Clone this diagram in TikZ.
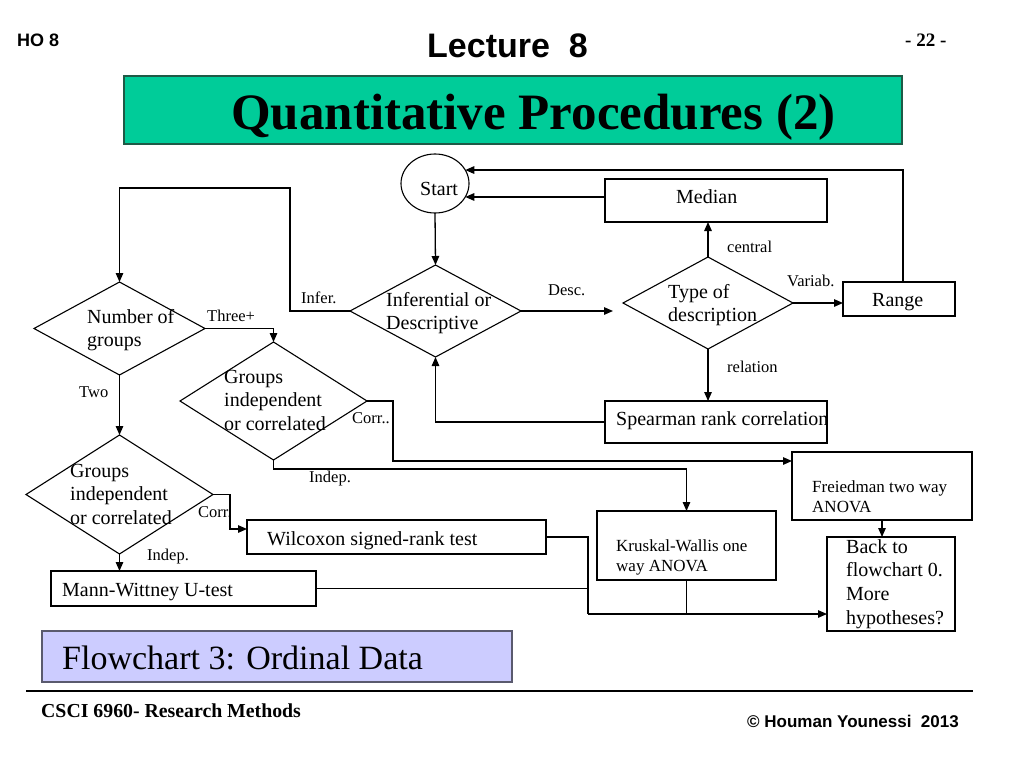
\documentclass[tikz,border=0pt]{standalone}
\usepackage{fontspec}
\setmainfont{Liberation Serif}
\newfontfamily\arialf{Liberation Sans}
\usetikzlibrary{shapes.geometric,arrows.meta}
\newcommand\mlines[1]{\begin{tabular}[t]{@{}l@{}}#1\end{tabular}}
\definecolor{titlegreen}{RGB}{0,204,153}
\definecolor{titleedge}{RGB}{30,90,70}
\definecolor{lav}{RGB}{204,204,255}
\definecolor{lavedge}{RGB}{90,90,110}
\begin{document}
\begin{tikzpicture}[x=1pt,y=-1pt,
  box/.style={draw, line width=1.1pt, rectangle, inner sep=0pt, outer sep=0pt},
  dia/.style={draw, line width=1.1pt, diamond, inner sep=0pt, outer sep=0pt},
  conn/.style={line width=1.3pt},
  arr/.style={conn, -{Triangle[length=9pt,width=7.5pt]}},
  txt/.style={anchor=base west, inner sep=0pt, font=\fontsize{20}{23.5}\selectfont},
  lbl/.style={anchor=base west, inner sep=0pt, font=\fontsize{16.5}{20}\selectfont},
  smt/.style={anchor=base west, inner sep=0pt, font=\fontsize{17}{20}\selectfont}]
\useasboundingbox[fill=white] (0,0) rectangle (1024,768);

% header
\node[anchor=base west, inner sep=0pt, font=\arialf\bfseries\fontsize{18}{20}\selectfont] (ho) at (17,47) {HO 8};
\node[anchor=base west, inner sep=0pt, font=\arialf\bfseries\fontsize{34}{38}\selectfont] (lect) at (427,57) {Lecture~~8};
\node[anchor=base west, inner sep=0pt, font=\bfseries\fontsize{19}{22}\selectfont] (pg) at (905,47) {- 22 -};
\node[box, draw=titleedge, fill=titlegreen, minimum width=778pt, minimum height=68pt] (green) at (513,110) {};
\node[anchor=base west, inner sep=0pt, font=\bfseries\fontsize{51}{56}\selectfont] (title) at (231,129) {Quantitative Procedures (2)};

% shapes
\node[draw, ellipse, line width=1.1pt, inner sep=0pt, outer sep=0pt, minimum width=68pt, minimum height=59pt] (Start) at (435,183.5) {};
\node[txt] (startT) at (420,195) {Start};
\node[dia, minimum width=171pt, minimum height=92pt] (dInf) at (435.5,311) {};
\node[dia, minimum width=170pt, minimum height=92pt] (dType) at (708,303) {};
\node[dia, minimum width=171pt, minimum height=93pt] (dNum) at (119.5,328.5) {};
\node[dia, minimum width=187pt, minimum height=118pt] (dG2) at (273.5,401) {};
\node[dia, minimum width=187pt, minimum height=119pt] (dG1) at (119.5,494.5) {};

\node[box, minimum width=222pt, minimum height=43pt] (Median) at (716,200.5) {};
\node[box, minimum width=112pt, minimum height=34pt] (Range) at (899,299) {};
\node[box, minimum width=222pt, minimum height=42pt] (Spear) at (716,422) {};
\node[box, minimum width=180pt, minimum height=68pt] (Fried) at (882,486) {};
\node[box, minimum width=179pt, minimum height=69pt] (Krus) at (686.5,545.5) {};
\node[box, minimum width=128pt, minimum height=94pt] (Back) at (891,584) {};
\node[box, minimum width=299pt, minimum height=34pt] (Wil) at (396.5,537) {};
\node[box, minimum width=265pt, minimum height=35pt] (Mann) at (183.5,588.5) {};

% shape texts
\node[txt] (tInf) at (386,306) {\mlines{Inferential or\\Descriptive}};
\node[txt] (tType) at (668,298) {\mlines{Type of\\description}};
\node[txt] (tNum) at (87,323) {\mlines{Number of\\groups}};
\node[txt] (tG2) at (224,383) {\mlines{Groups\\independent\\or correlated}};
\node[txt] (tG1) at (70,477) {\mlines{Groups\\independent\\or correlated}};
\node[txt] (tMed) at (676,203) {Median};
\node[txt] (tRange) at (872,306) {Range};
\node[txt] (tSpear) at (616,425) {Spearman rank correlation};
\node[smt] (tFried) at (812,492) {\mlines{Freiedman two way\\ANOVA}};
\node[smt] (tKrus) at (616,551) {\mlines{Kruskal-Wallis one\\way ANOVA}};
\node[anchor=base west, inner sep=0pt, font=\fontsize{20}{23.7}\selectfont] (tBack) at (846,553) {\mlines{Back to\\flowchart 0.\\More\\hypotheses?}};
\node[txt] (tWil) at (267,545) {Wilcoxon signed-rank test};
\node[txt] (tMann) at (62,596) {Mann-Wittney U-test};

% coordinates
\coordinate (infc) at (290,188);
\coordinate (corrc) at (393,461);
\coordinate (corrb) at (230,529);
\coordinate (join) at (588,614);

% connectors
\draw[arr] (Start.south) -- (dInf.north);
\draw[arr] (Median.west |- Start.-24) -- (Start.-24);
\draw[arr] ([xshift=4pt]Range.north) |- (Start.24);
\draw[arr] (dInf.east) -- ([xshift=-10pt]dType.west |- dInf.east);
\draw[arr] (dType.north) -- (dType.north |- Median.south);
\draw[arr] (dType.south) -- (dType.south |- Spear.north);
\draw[arr] (dType.east) -- (dType.east -| Range.west);
\draw[arr] (Spear.west) -| (dInf.south);
\draw[arr] (dInf.west) -| (infc) -| (dNum.north);
\draw[arr] (dNum.east) -| (dG2.north);
\draw[arr] (dNum.south) -- (dG1.north);
\draw[arr] (dG2.east) -| (corrc) -- (corrc -| Fried.west);
\draw[arr] (dG2.south) -- ++(0,9) -| (Krus.north);
\draw[arr] (dG1.east) -| (corrb) -- (corrb -| Wil.west);
\draw[arr] (dG1.south) -- (dG1.south |- Mann.north);
\draw[conn] (Wil.east) -| (join);
\draw[arr] (join) -- (join -| Back.west);
\draw[conn] (Mann.east) -- (Mann.east -| join);
\draw[conn] (Krus.south) -- (Krus.south |- join);
\draw[arr] (Fried.south) -- (Fried.south |- Back.north);

% connector labels
\node[lbl] (lInfer) at (301,303) {Infer.};
\node[lbl] (lDesc) at (548,295) {Desc.};
\node[lbl] (lCentral) at (727,252) {central};
\node[lbl] (lVariab) at (787,286) {Variab.};
\node[lbl] (lRel) at (727,372) {relation};
\node[lbl] (lThree) at (207,321) {Three+};
\node[lbl] (lTwo) at (79,397) {Two};
\node[lbl] (lCorr2) at (352,423) {Corr..};
\node[lbl] (lIndep2) at (309,482) {Indep.};
\node[lbl] (lCorr1) at (198,517) {Corr.};
\node[lbl] (lIndep1) at (147,560) {Indep.};

% footer
\node[box, draw=lavedge, fill=lav, minimum width=470pt, minimum height=51pt] (lavbox) at (277,656.5) {};
\node[anchor=base west, inner sep=0pt, font=\fontsize{34}{38}\selectfont] (fc) at (62,669) {Flowchart 3: Ordinal Data};
\coordinate (ruleL) at (26,691);
\coordinate (ruleR) at (973,691);
\draw[line width=1.6pt] (ruleL) -- (ruleR);
\node[anchor=base west, inner sep=0pt, font=\bfseries\fontsize{19.8}{22}\selectfont] (csci) at (41,717) {CSCI 6960- Research Methods};
\node[anchor=base west, inner sep=0pt, font=\arialf\bfseries\fontsize{17}{20}\selectfont] (copy) at (747,727) {©~Houman Younessi~~2013};
\end{tikzpicture}
\end{document}
